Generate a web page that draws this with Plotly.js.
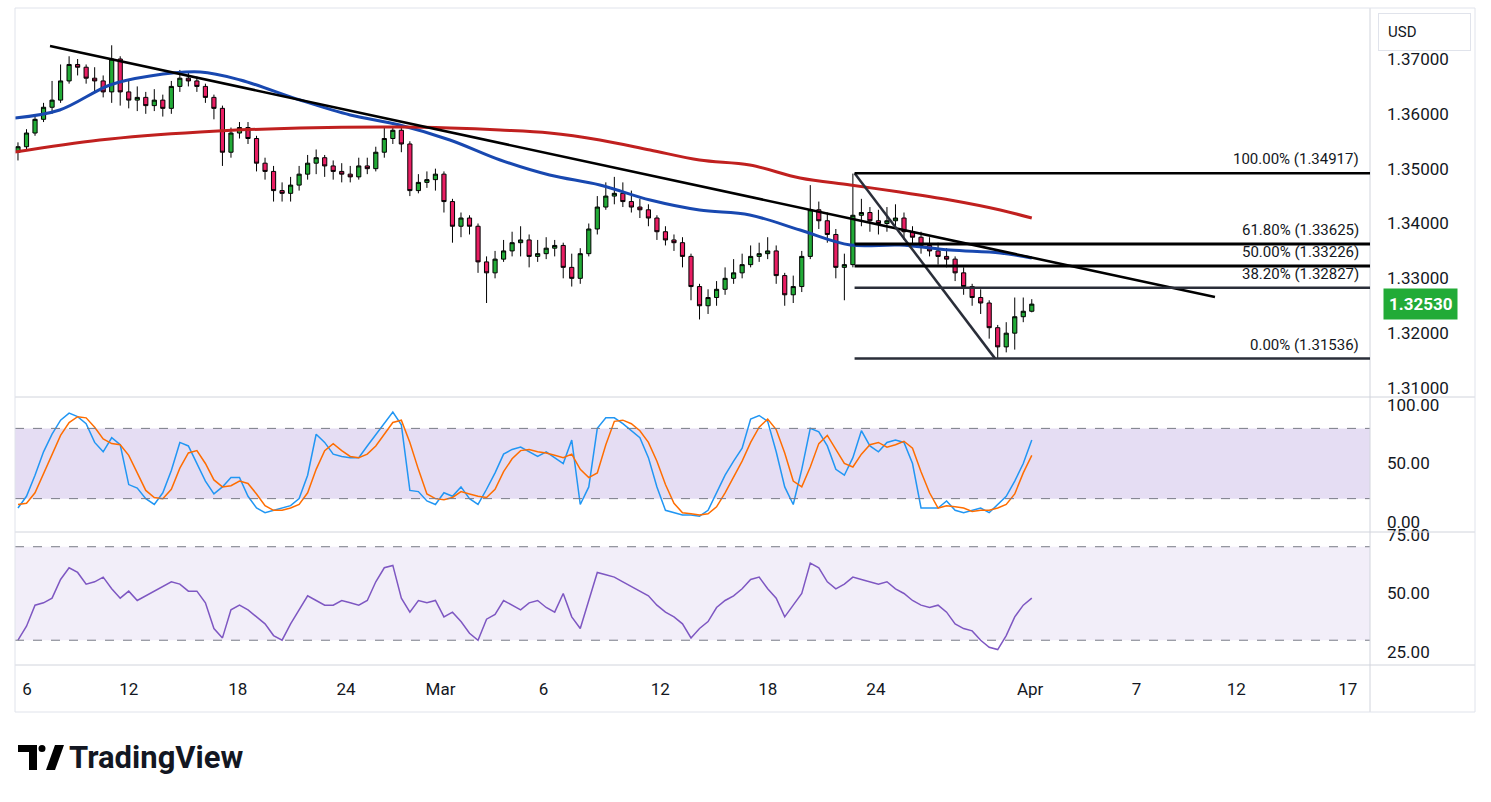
<!DOCTYPE html>
<html>
<head>
<meta charset="utf-8">
<script src="https://cdn.plot.ly/plotly-3.0.1.min.js"></script>
<style>
  html, body { margin: 0; padding: 0; background: #fff; }
  #chart { width: 1491px; height: 802px; }
</style>
</head>
<body>
<div id="chart"></div>
<script>
// price candles (one per bar index)
const opens = [1.3530,1.3540,1.3565,1.3590,1.3612,1.3625,1.3660,1.3690,1.3685,1.3665,
  1.3660,1.3640,1.3700,1.3640,1.3625,1.3630,1.3615,1.3625,1.3610,1.3650,
  1.3665,1.3660,1.3650,1.3630,1.3610,1.3530,1.3565,1.3575,1.3555,1.3510,
  1.3495,1.3460,1.3455,1.3470,1.3490,1.3510,1.3520,1.3505,1.3495,1.3490,
  1.3485,1.3505,1.3500,1.3530,1.3555,1.3570,1.3545,1.3460,1.3475,1.3480,
  1.3490,1.3440,1.3395,1.3410,1.3395,1.3330,1.3310,1.3335,1.3350,1.3365,
  1.3370,1.3340,1.3345,1.3355,1.3360,1.3320,1.3300,1.3345,1.3390,1.3430,
  1.3450,1.3455,1.3440,1.3430,1.3425,1.3410,1.3385,1.3370,1.3365,1.3340,
  1.3285,1.3250,1.3265,1.3280,1.3300,1.3310,1.3325,1.3340,1.3345,1.3350,
  1.3305,1.3270,1.3285,1.3340,1.3425,1.3405,1.3380,1.3320,1.3325,1.3415,
  1.3420,1.3405,1.3400,1.3405,1.3410,1.3385,1.3375,1.3360,1.3350,1.3340,
  1.3335,1.3310,1.3285,1.3265,1.3255,1.3210,1.3175,1.3200,1.3230,1.3240]
const closes = [1.3540,1.3565,1.3590,1.3612,1.3625,1.3660,1.3690,1.3685,1.3665,1.3660,
  1.3640,1.3700,1.3640,1.3625,1.3630,1.3615,1.3625,1.3610,1.3650,1.3665,
  1.3660,1.3650,1.3630,1.3610,1.3530,1.3565,1.3575,1.3555,1.3510,1.3495,
  1.3460,1.3455,1.3470,1.3490,1.3510,1.3520,1.3505,1.3495,1.3490,1.3485,
  1.3505,1.3500,1.3530,1.3555,1.3570,1.3545,1.3460,1.3475,1.3480,1.3490,
  1.3440,1.3395,1.3410,1.3395,1.3330,1.3310,1.3335,1.3350,1.3365,1.3370,
  1.3340,1.3345,1.3355,1.3360,1.3320,1.3300,1.3345,1.3390,1.3430,1.3450,
  1.3455,1.3440,1.3430,1.3425,1.3410,1.3385,1.3370,1.3365,1.3340,1.3285,
  1.3250,1.3265,1.3280,1.3300,1.3310,1.3325,1.3340,1.3345,1.3350,1.3305,
  1.3270,1.3285,1.3340,1.3425,1.3405,1.3380,1.3320,1.3325,1.3415,1.3420,
  1.3405,1.3400,1.3405,1.3410,1.3385,1.3375,1.3360,1.3350,1.3340,1.3335,
  1.3310,1.3285,1.3265,1.3255,1.3210,1.3175,1.3200,1.3230,1.3240,1.3253]
const highs = [1.3548,1.3572,1.3598,1.3620,1.3660,1.3690,1.3705,1.3700,1.3690,1.3685,
  1.3670,1.3725,1.3705,1.3660,1.3650,1.3640,1.3645,1.3635,1.3660,1.3680,
  1.3675,1.3668,1.3655,1.3635,1.3615,1.3575,1.3585,1.3585,1.3560,1.3520,
  1.3505,1.3475,1.3485,1.3505,1.3525,1.3535,1.3525,1.3515,1.3510,1.3505,
  1.3520,1.3520,1.3540,1.3575,1.3578,1.3580,1.3550,1.3490,1.3495,1.3500,
  1.3495,1.3445,1.3420,1.3415,1.3400,1.3340,1.3350,1.3370,1.3385,1.3395,
  1.3380,1.3370,1.3375,1.3370,1.3365,1.3345,1.3355,1.3400,1.3450,1.3475,
  1.3485,1.3475,1.3460,1.3445,1.3435,1.3415,1.3395,1.3380,1.3375,1.3345,
  1.3290,1.3280,1.3295,1.3320,1.3335,1.3345,1.3360,1.3365,1.3375,1.3360,
  1.3310,1.3305,1.3350,1.3470,1.3440,1.3420,1.3390,1.3345,1.3491,1.3445,
  1.3430,1.3425,1.3430,1.3435,1.3420,1.3395,1.3385,1.3375,1.3365,1.3355,
  1.3340,1.3320,1.3290,1.3280,1.3260,1.3215,1.3220,1.3265,1.3265,1.3262]
const lows = [1.3515,1.3535,1.3560,1.3585,1.3600,1.3620,1.3655,1.3670,1.3655,1.3640,
  1.3630,1.3620,1.3615,1.3610,1.3605,1.3600,1.3605,1.3595,1.3600,1.3640,
  1.3650,1.3640,1.3620,1.3590,1.3505,1.3520,1.3555,1.3545,1.3495,1.3480,
  1.3440,1.3440,1.3440,1.3460,1.3480,1.3490,1.3485,1.3480,1.3475,1.3475,
  1.3480,1.3490,1.3495,1.3520,1.3545,1.3530,1.3450,1.3455,1.3465,1.3460,
  1.3420,1.3365,1.3375,1.3380,1.3310,1.3255,1.3300,1.3330,1.3340,1.3340,
  1.3320,1.3330,1.3335,1.3340,1.3300,1.3285,1.3290,1.3340,1.3380,1.3425,
  1.3435,1.3430,1.3420,1.3410,1.3395,1.3370,1.3360,1.3350,1.3320,1.3260,
  1.3225,1.3235,1.3250,1.3270,1.3290,1.3300,1.3320,1.3330,1.3335,1.3290,
  1.3250,1.3255,1.3275,1.3335,1.3390,1.3365,1.3300,1.3260,1.3320,1.3395,
  1.3385,1.3380,1.3385,1.3390,1.3370,1.3360,1.3345,1.3340,1.3325,1.3320,
  1.3295,1.3270,1.3250,1.3235,1.3190,1.3154,1.3165,1.3170,1.3220,1.3238]

// moving averages (bar index, price)
const ma50X = [-0.35,4.9,10.8,15.5,21.4,26.1,33.1,39,44.8,50.7,56.6,62.4,68.3,74.2,80,85.9,91.8,97.7,103.5,109.4,115.3,119]
const ma50Y = [1.35924,1.36070,1.36526,1.36690,1.36763,1.36617,1.36252,1.35979,1.35796,1.35523,1.35158,1.34884,1.34702,1.34428,1.34246,1.34155,1.33881,1.33608,1.33608,1.33517,1.33462,1.33371]
const ma200X = [-0.35,9.6,21.4,33.1,44.8,50.7,56.6,62.4,68.3,74.2,80,85.9,91.8,97.7,103.5,109.4,115.3,119]
const ma200Y = [1.35304,1.35523,1.35669,1.35742,1.35760,1.35742,1.35705,1.35650,1.35523,1.35340,1.35158,1.35067,1.34830,1.34702,1.34574,1.34428,1.34246,1.34100]

// stochastic %K / %D
const stochK = [12,22,40,60,75,87,93,90,84,68,60,72,66,32,29,20,15,25,44,68,
  65,50,35,24,30,38,38,22,12,8,10,12,14,20,40,75,68,58,56,55,
  55,65,75,85,94,83,27,26,18,15,25,22,30,20,15,28,42,58,62,64,
  60,56,60,55,50,70,15,30,80,89,89,84,78,72,55,30,10,8,6,6,
  5,10,25,40,52,63,88,91,86,60,30,15,45,80,77,65,45,40,55,78,
  65,60,68,70,68,50,12,12,12,18,10,8,10,12,8,15,22,35,50,70]
const stochD = [15,16,25,41,58,74,85,90,89,81,71,67,66,57,42,27,21,20,28,46,
  59,61,50,36,30,31,35,33,24,14,10,10,12,15,25,45,61,67,61,56,
  55,58,65,75,85,87,68,45,24,20,19,21,26,24,22,21,28,43,54,61,
  62,60,59,57,55,58,45,38,42,66,86,87,84,78,68,52,32,16,8,7,
  6,7,13,25,39,52,68,81,88,79,59,35,30,47,67,74,62,50,47,58,
  66,68,64,66,69,63,43,25,12,14,13,12,9,10,10,12,15,24,42,57]

// RSI
const rsi = [30,36,45,46,48,56,61,59,54,55,57,52,48,51,47,49,51,53,55,54,
  51,51,46,35,31,43,45,43,40,37,32,30,37,43,49,47,45,45,47,46,
  45,47,55,61,62,48,42,47,46,47,40,42,38,33,30,39,41,47,45,43,
  46,47,44,42,50,40,35,47,59,58,57,55,53,51,49,45,42,40,37,31,
  35,38,44,47,49,52,56,57,52,48,40,45,50,63,61,55,52,54,57,56,
  55,54,55,52,50,47,45,44,45,42,37,35,34,30,27,26,32,40,45,48]

// x axis labels
const tickIdx = [1.06,13.0,25.8,38.5,49.6,61.7,75.4,88.0,100.7,118.8,131.3,143,156.1]
const tickText = ['6','12','18','24','Mar','6','12','18','24','Apr','7','12','17']

// fibonacci retracement
const fibLevels = [1.34917,1.33625,1.33226,1.32827,1.31536]
const fibNames = ['100.00%','61.80%','50.00%','38.20%','0.00%']

const lastPrice = 1.32530
const idx = closes.map((_, i) => i)

const FONT = 'Roboto, "Liberation Sans", sans-serif'
const TXT = '#131722'
const XMAX = 158.7
const px = x => (x - 15) / 1355
const py = y => (665 - y) / 657
const pathPx = pts => 'M ' + pts.map(p => px(p[0]) + ' ' + py(p[1])).join(' L ') + ' Z'

const traces = [
  {
    type: 'candlestick', x: idx, open: opens, high: highs, low: lows, close: closes,
    increasing: { fillcolor: '#22ab37', line: { color: '#000', width: 1 } },
    decreasing: { fillcolor: '#e91e63', line: { color: '#000', width: 1 } },
    whiskerwidth: 0, hoverinfo: 'skip', xaxis: 'x', yaxis: 'y'
  },
  { type: 'scatter', mode: 'lines', x: ma50X, y: ma50Y, line: { color: '#1848b0', width: 3, shape: 'spline' }, xaxis: 'x', yaxis: 'y' },
  { type: 'scatter', mode: 'lines', x: ma200X, y: ma200Y, line: { color: '#c0201f', width: 3, shape: 'spline' }, xaxis: 'x', yaxis: 'y' },
  { type: 'scatter', mode: 'lines', x: idx, y: stochK, line: { color: '#2196f3', width: 1.5 }, xaxis: 'x', yaxis: 'y2' },
  { type: 'scatter', mode: 'lines', x: idx, y: stochD, line: { color: '#ff6d00', width: 1.5 }, xaxis: 'x', yaxis: 'y2' },
  { type: 'scatter', mode: 'lines', x: idx, y: rsi, line: { color: '#7e57c2', width: 1.5 }, xaxis: 'x', yaxis: 'y3' }
]

const shapes = [
  // indicator bands
  { type: 'rect', xref: 'x', yref: 'y2', x0: -0.35, x1: XMAX, y0: 20, y1: 80, fillcolor: 'rgba(126,87,194,0.2)', line: { width: 0 }, layer: 'below' },
  { type: 'line', xref: 'x', yref: 'y2', x0: -0.35, x1: XMAX, y0: 80, y1: 80, line: { color: '#787b86', width: 1, dash: 'dash' } },
  { type: 'line', xref: 'x', yref: 'y2', x0: -0.35, x1: XMAX, y0: 20, y1: 20, line: { color: '#787b86', width: 1, dash: 'dash' } },
  { type: 'rect', xref: 'x', yref: 'y3', x0: -0.35, x1: XMAX, y0: 30, y1: 70, fillcolor: 'rgba(126,87,194,0.1)', line: { width: 0 }, layer: 'below' },
  { type: 'line', xref: 'x', yref: 'y3', x0: -0.35, x1: XMAX, y0: 70, y1: 70, line: { color: '#787b86', width: 1, dash: 'dash' } },
  { type: 'line', xref: 'x', yref: 'y3', x0: -0.35, x1: XMAX, y0: 30, y1: 30, line: { color: '#787b86', width: 1, dash: 'dash' } },
  // trend lines
  { type: 'line', xref: 'x', yref: 'y', x0: 3.76, y0: 1.37237, x1: 140.5, y1: 1.32659, line: { color: '#000', width: 2.5 } },
  { type: 'line', xref: 'x', yref: 'y', x0: 98.2, y0: 1.34917, x1: 114.7, y1: 1.31536, line: { color: '#2a2e39', width: 2.5 } },
  // panel separators and frame
  { type: 'line', xref: 'paper', yref: 'paper', x0: 0, x1: px(1475), y0: py(397), y1: py(397), line: { color: '#d1d4dc', width: 1 } },
  { type: 'line', xref: 'paper', yref: 'paper', x0: 0, x1: px(1475), y0: py(532), y1: py(532), line: { color: '#d1d4dc', width: 1 } },
  { type: 'line', xref: 'paper', yref: 'paper', x0: 0, x1: px(1475), y0: 0, y1: 0, line: { color: '#d1d4dc', width: 1 } },
  { type: 'line', xref: 'paper', yref: 'paper', x0: 1, x1: 1, y0: py(712), y1: py(8), line: { color: '#d1d4dc', width: 1 } },
  { type: 'rect', xref: 'paper', yref: 'paper', x0: 0, x1: px(1475), y0: py(712), y1: py(8), line: { color: '#e0e3eb', width: 1 } },
  // TradingView logo mark
  { type: 'path', xref: 'paper', yref: 'paper', path: pathPx([[18, 745], [37, 745], [37, 770], [29, 770], [29, 752], [18, 752]]), fillcolor: '#000', line: { width: 0 } },
  { type: 'circle', xref: 'paper', yref: 'paper', x0: px(38.5), x1: px(45.5), y0: py(752), y1: py(745), fillcolor: '#000', line: { width: 0 } },
  { type: 'path', xref: 'paper', yref: 'paper', path: pathPx([[55, 745], [64, 745], [55, 770], [46, 770]]), fillcolor: '#000', line: { width: 0 } }
]

fibLevels.forEach((lv, i) => {
  shapes.push({
    type: 'line', xref: 'x', yref: 'y', x0: 98.2, x1: XMAX, y0: lv, y1: lv,
    line: { color: i === 3 || i === 4 ? '#2a2e39' : '#000', width: i === 1 || i === 2 ? 3 : 2.5 }
  })
})

const annotations = fibLevels.map((lv, i) => ({
  xref: 'x', yref: 'y', x: 157.6, y: lv, xanchor: 'right', yanchor: 'bottom', yshift: 3,
  text: fibNames[i] + ' (' + lv.toFixed(5) + ')', showarrow: false,
  font: { family: FONT, size: 15, color: TXT }
}))

annotations.push(
  { xref: 'paper', yref: 'y', x: px(1420), y: lastPrice, xanchor: 'center', yanchor: 'middle',
    text: '<b>' + lastPrice.toFixed(5) + '</b>', showarrow: false, bgcolor: '#22ab37',
    borderpad: 5, font: { family: FONT, size: 17, color: '#fff' } },
  { xref: 'paper', yref: 'paper', x: px(1378), y: py(32), xanchor: 'left', yanchor: 'middle',
    text: 'USD&nbsp;&nbsp;&nbsp;&nbsp;&nbsp;&nbsp;&nbsp;&nbsp;&nbsp;&nbsp;&nbsp;&nbsp;', showarrow: false, bgcolor: '#fff',
    bordercolor: '#e0e3eb', borderwidth: 1, borderpad: 9, font: { family: FONT, size: 15, color: TXT } },
  { xref: 'paper', yref: 'paper', x: px(67), y: py(757), xanchor: 'left', yanchor: 'middle',
    text: '<b>TradingView</b>', showarrow: false, font: { family: FONT, size: 31, color: '#131722' } }
)

const yCommon = {
  side: 'right', showgrid: false, zeroline: false, showline: false, ticks: '',
  ticklabelstandoff: 16, tickfont: { family: FONT, size: 17, color: TXT }, fixedrange: true
}

const layout = {
  width: 1491, height: 802,
  margin: { l: 15, r: 121, t: 8, b: 137 },
  paper_bgcolor: '#fff', plot_bgcolor: '#fff',
  showlegend: false, dragmode: false,
  xaxis: {
    anchor: 'y3', range: [-0.35, XMAX], tickvals: tickIdx, ticktext: tickText,
    showgrid: false, zeroline: false, showline: false, ticks: '',
    rangeslider: { visible: false }, tickfont: { family: FONT, size: 17, color: TXT },
    ticklabelstandoff: 12
  },
  yaxis: Object.assign({}, yCommon, {
    domain: [py(397), 1], range: [1.30836, 1.37930],
    tickvals: [1.31, 1.32, 1.33, 1.34, 1.35, 1.36, 1.37], tickformat: '.5f'
  }),
  yaxis2: Object.assign({}, yCommon, {
    domain: [py(532), py(397)], range: [-8.5, 106.8], tickvals: [0, 50, 100], tickformat: '.2f'
  }),
  yaxis3: Object.assign({}, yCommon, {
    domain: [0, py(532)], range: [19.4, 76.3], tickvals: [25, 50, 75], tickformat: '.2f'
  }),
  shapes: shapes,
  annotations: annotations
}

Plotly.newPlot('chart', traces, layout, { displayModeBar: false, staticPlot: true })
</script>
</body>
</html>
